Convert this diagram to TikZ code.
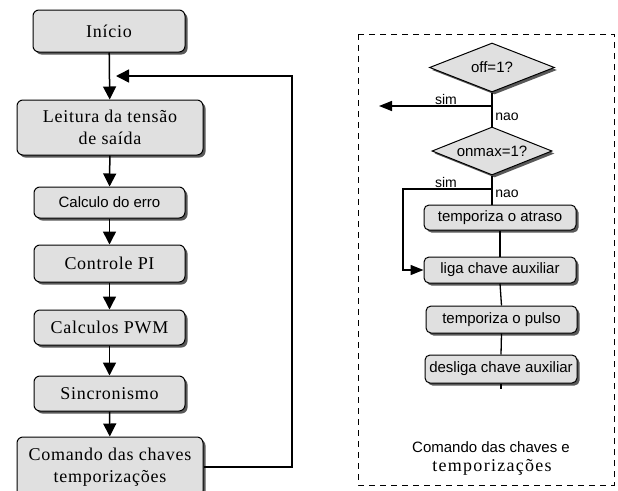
\documentclass[tikz,border=0pt]{standalone}
\usepackage{fontspec}
\setmainfont{Liberation Serif}
\setsansfont{Liberation Sans}
\newfontfamily\serifsp{Liberation Serif}[LetterSpace=4]
\newfontfamily\serifwide{Liberation Serif}[LetterSpace=7]
\usetikzlibrary{arrows.meta,shapes.geometric,shadows}
\definecolor{boxgray}{RGB}{224,224,224}
\begin{document}
\begin{tikzpicture}[x=1pt,y=-1pt,
  shad/.style={drop shadow={shadow xshift=2.5pt,shadow yshift=-2.5pt,fill=black!65,opacity=1}},
  box/.style={draw=black, line width=1pt, fill=boxgray, rounded corners=6pt, shad, inner sep=0pt, align=center},
  serifbox/.style={box, font=\serifsp\fontsize{18}{22}\selectfont},
  sansbox/.style={box, font=\sffamily\fontsize{15}{17}\selectfont},
  smallbox/.style={box, rounded corners=5pt, font=\sffamily\fontsize{15}{17}\selectfont, minimum width=152pt},
  dec/.style={diamond, aspect=2.5, draw=black, line width=1pt, fill=boxgray, inner sep=0pt, shad, font=\sffamily\fontsize{15}{17}\selectfont},
  conn/.style={line width=1.5pt},
  thin/.style={line width=1.3pt},
  arr/.style={conn, -{Triangle[length=13pt,width=13pt]}},
  arrs/.style={conn, -{Triangle[length=13pt,width=10pt]}},
  lbl/.style={font=\sffamily\fontsize{14}{16}\selectfont, inner sep=0pt},
  frame/.style={line width=1pt, dash pattern=on 6pt off 5pt}
]
\useasboundingbox (0,0) rectangle (618,490);

% left flowchart
\node[serifbox, minimum width=152pt, minimum height=42pt] (inicio) at (109,31) {Início};
\node[serifbox, minimum width=186pt, minimum height=55pt] (leitura) at (110,127.5) {Leitura da tensão\\de saída};
\node[sansbox, minimum width=151pt, minimum height=31pt] (erro) at (109.5,202.5) {Calculo do erro};
\node[serifbox, minimum width=151pt, minimum height=37pt] (pi) at (109.5,263.5) {Controle PI};
\node[serifbox, minimum width=151pt, minimum height=35pt] (pwm) at (109.5,327.5) {Calculos PWM};
\node[serifbox, minimum width=151pt, minimum height=35pt] (sinc) at (109.5,393.5) {Sincronismo};
\node[serifbox, minimum width=186pt, minimum height=60pt] (comando) at (110,467) {Comando das chaves\\temporizações};

\draw[arr] (inicio) -- (leitura);
\draw[arr] (leitura) -- (erro);
\draw[arr] (erro) -- (pi);
\draw[arr] (pi) -- (pwm);
\draw[arr] (pwm) -- (sinc);
\draw[arr] (sinc) -- (comando);

\coordinate (fbcorner) at (292,76);
\coordinate (fbtip) at (116,76);
\draw[arr] (comando.east) -| (fbcorner) -- (fbtip);

% right panel
\draw[frame] (358,34) rectangle (614,485);

\node[dec, minimum width=125pt, minimum height=49pt] (off) at (492,67.5) {off=1?};
\node[dec, minimum width=120pt, minimum height=48pt] (onmax) at (492,151) {onmax=1?};

\node[smallbox, minimum height=25pt] (atraso) at (500,217.5) {temporiza o atraso};
\node[smallbox, minimum height=26pt] (liga) at (500,270) {liga chave auxiliar};
\node[smallbox, minimum width=151pt, minimum height=27pt] (pulso) at (501.5,319.5) {temporiza o pulso};
\node[smallbox, minimum height=28pt] (desliga) at (501,369) {desliga chave auxiliar};

\coordinate (j1) at (492,106);
\coordinate (simtip1) at (379,106);
\coordinate (j2) at (492,189);
\coordinate (c2) at (403,189);

\draw[conn] (off.south) -- (onmax.north);
\draw[arrs] (j1) -- (simtip1);
\draw[conn] (onmax.south) -- (onmax.south |- atraso.north);
\draw[arrs] (j2) -- (c2) |- (liga.west);
\draw[thin] (atraso.south) -- (liga.north);
\draw[thin] (liga.south) -- (pulso.north);
\draw[thin] (pulso.south) -- (desliga.north);
\draw[thin] (desliga.south) -- ++(0,5);

\node[lbl] (sim1) at (446,99) {sim};
\node[lbl] (nao1) at (507,117) {nao};
\node[lbl] (sim2) at (446,182) {sim};
\node[lbl] (nao2) at (507,194) {nao};

\node[font=\sffamily\fontsize{15}{17}\selectfont, inner sep=0pt] (cap1) at (491,447) {Comando das chaves e};
\node[font=\serifwide\fontsize{18}{20}\selectfont, inner sep=0pt] (cap2) at (492,467) {temporizações};
\end{tikzpicture}
\end{document}
